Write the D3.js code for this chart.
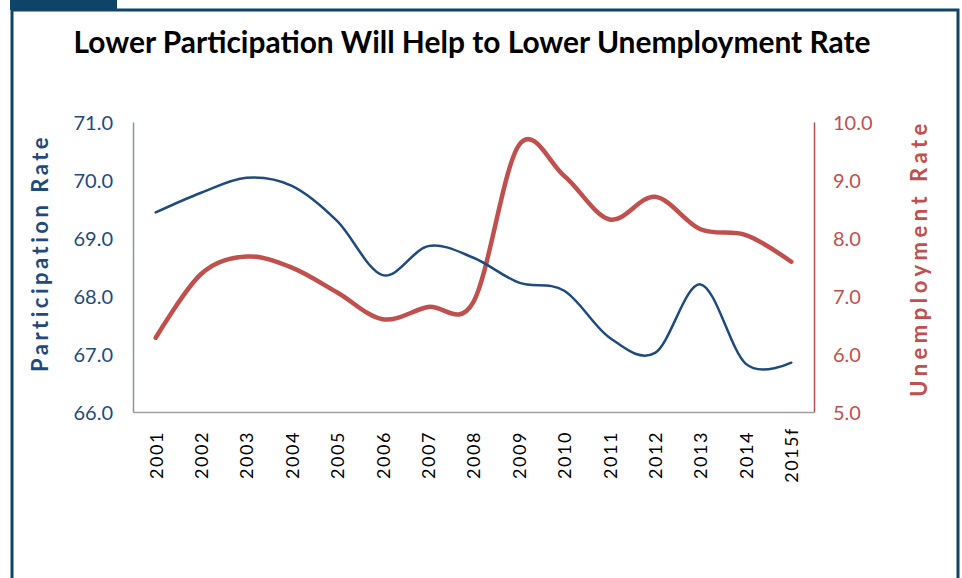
<!DOCTYPE html>
<html>
<head>
<meta charset="utf-8">
<script src="https://cdn.jsdelivr.net/npm/d3@7"></script>
<style>
  body { margin: 0; background: #fff; }
  text { font-family: Lato, "Open Sans", sans-serif; }
</style>
</head>
<body>
<script>
// years on the x axis
const years = ["2001","2002","2003","2004","2005","2006","2007","2008","2009","2010","2011","2012","2013","2014","2015f"];
// participation rate (left axis)
const participation = [69.44, 69.78, 70.04, 69.90, 69.29, 68.36, 68.86, 68.66, 68.23, 68.09, 67.28, 67.02, 68.20, 66.83, 66.85];
// unemployment rate (right axis)
const unemployment = [6.28, 7.38, 7.68, 7.49, 7.06, 6.60, 6.81, 6.90, 9.60, 9.07, 8.32, 8.71, 8.15, 8.05, 7.59];
const leftTicks = [66, 67, 68, 69, 70, 71];
const rightTicks = [5, 6, 7, 8, 9, 10];

const width = 962, height = 578;
const margins = { left: 133, right: 148, top: 122, bottom: 166 };

const blue = "#1f4a7e";
const red = "#c0504d";

var svg = d3.select("body").append("svg")
    .attr("width", width)
    .attr("height", height);

// frame
svg.append("rect").attr("x", 10).attr("y", 0).attr("width", 107).attr("height", 10).attr("fill", "#0f4468");
svg.append("path")
    .attr("d", "M12,578 L12,10 L958,10 L958,578")
    .attr("fill", "none")
    .attr("stroke", "#0f4468")
    .attr("stroke-width", 3);

// title
svg.append("text")
    .text("Lower Participation Will Help to Lower Unemployment Rate")
    .attr("x", 472)
    .attr("y", 53)
    .attr("text-anchor", "middle")
    .attr("textLength", 797)
    .attr("lengthAdjust", "spacingAndGlyphs")
    .style("font-size", "31px")
    .style("font-weight", "bold")
    .style("fill", "#000");

// scales
var xScale = d3.scalePoint().domain(years).range([margins.left, width - margins.right]).padding(0.5);
var yLeft = d3.scaleLinear().domain([66, 71]).range([height - margins.bottom, margins.top]);
var yRight = d3.scaleLinear().domain([5, 10]).range([height - margins.bottom, margins.top]);

// axes
var gLeft = svg.append("g").attr("transform", "translate(" + margins.left + ",0)")
    .call(d3.axisLeft(yLeft).tickValues(leftTicks).tickSize(0).tickPadding(20).tickFormat(d3.format(".1f")));
gLeft.select(".domain").attr("stroke", "#8297b5").attr("stroke-width", 1.5);
gLeft.selectAll("text").style("font-size", "20px").style("fill", blue).attr("dy", "0.35em");

var gRight = svg.append("g").attr("transform", "translate(" + (width - margins.right) + ",0)")
    .call(d3.axisRight(yRight).tickValues(rightTicks).tickSize(0).tickPadding(19).tickFormat(d3.format(".1f")));
gRight.select(".domain").attr("stroke", red).attr("stroke-width", 1.5);
gRight.selectAll("text").style("font-size", "20px").style("fill", red).attr("dy", "0.35em");

var gBottom = svg.append("g").attr("transform", "translate(0," + (height - margins.bottom) + ")")
    .call(d3.axisBottom(xScale).tickSize(0).tickPadding(0));
gBottom.select(".domain").attr("stroke", "#a0a0a0").attr("stroke-width", 1.5);
gBottom.selectAll("text")
    .attr("transform", "translate(0,43) rotate(-90)")
    .attr("x", 0).attr("y", 0).attr("dy", "0.35em")
    .attr("text-anchor", "middle")
    .style("font-size", "18px")
    .style("letter-spacing", "1.5px")
    .style("fill", "#000");

// axis titles
svg.append("text")
    .text("Participation Rate")
    .attr("transform", "translate(48,253) rotate(-90)")
    .attr("text-anchor", "middle")
    .style("font-size", "22px")
    .style("font-weight", "bold")
    .style("letter-spacing", "3.5px")
    .style("fill", blue);

svg.append("text")
    .text("Unemployment Rate")
    .attr("transform", "translate(927,258) rotate(-90)")
    .attr("text-anchor", "middle")
    .style("font-size", "22px")
    .style("font-weight", "bold")
    .style("letter-spacing", "4.5px")
    .style("fill", red);

// lines
var lineLeft = d3.line()
    .x((d, i) => xScale(years[i]))
    .y(d => yLeft(d))
    .curve(d3.curveCardinal.tension(0));
var lineRight = d3.line()
    .x((d, i) => xScale(years[i]))
    .y(d => yRight(d))
    .curve(d3.curveCardinal.tension(0));

svg.append("path")
    .attr("d", lineRight(unemployment))
    .attr("fill", "none")
    .attr("stroke", red)
    .attr("stroke-width", 4.5)
    .attr("stroke-linecap", "round");

svg.append("path")
    .attr("d", lineLeft(participation))
    .attr("fill", "none")
    .attr("stroke", blue)
    .attr("stroke-width", 2.5)
    .attr("stroke-linecap", "round");
</script>
</body>
</html>
